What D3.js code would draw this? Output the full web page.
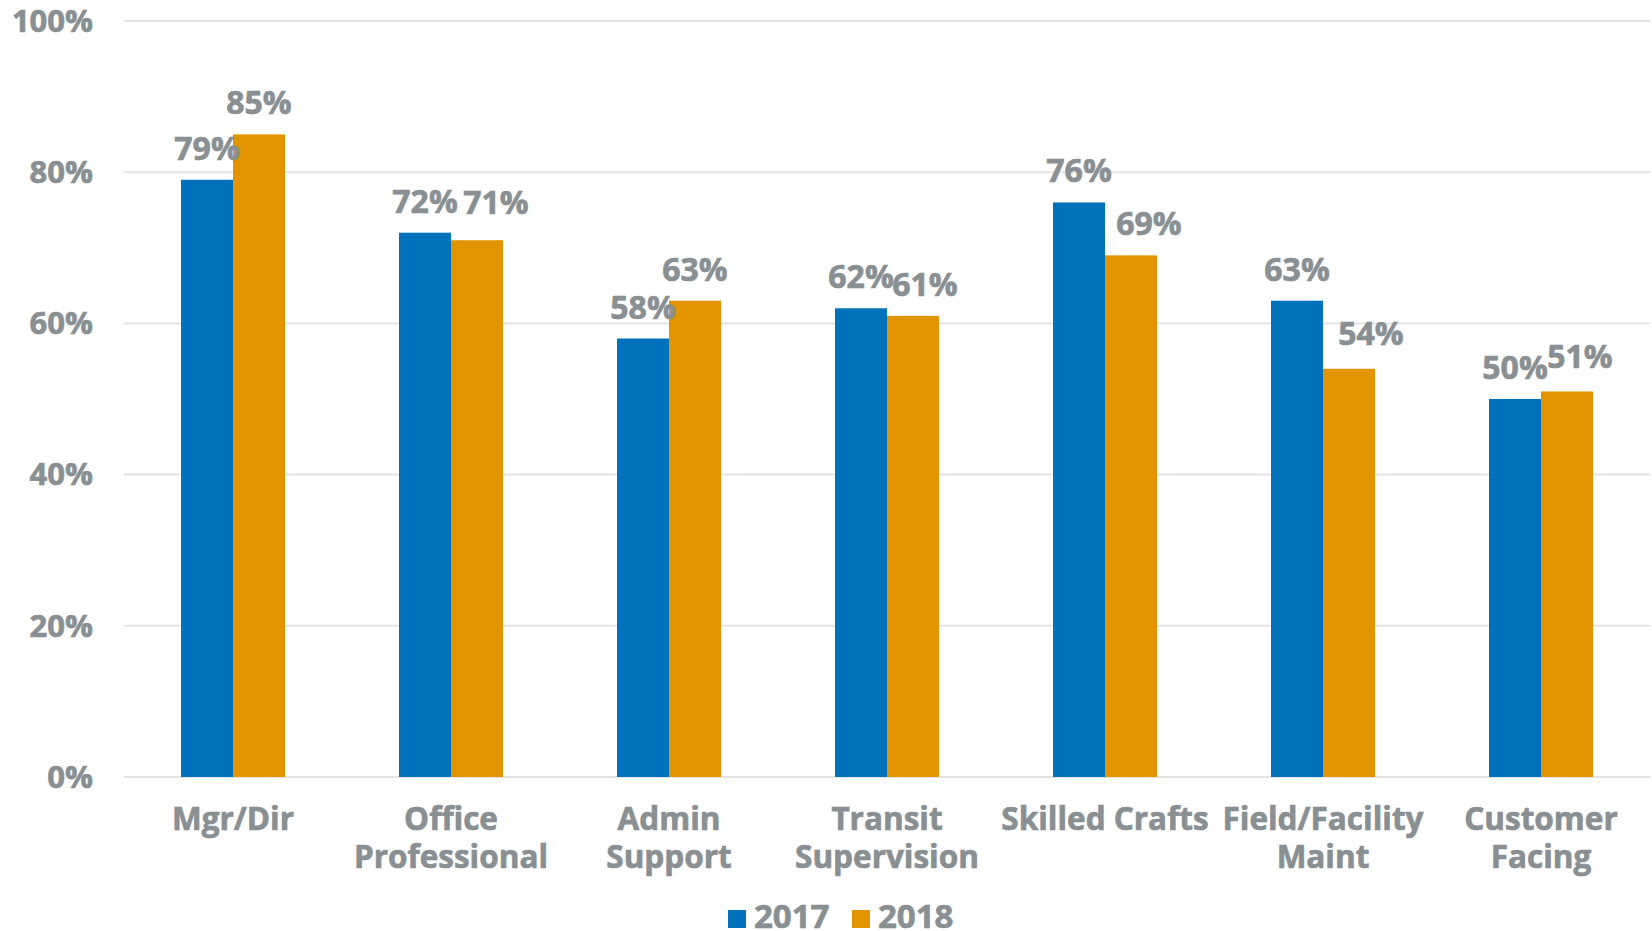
<!DOCTYPE html>
<html>
<head>
<meta charset="utf-8">
<script src="https://cdn.jsdelivr.net/npm/d3@7"></script>
<style>
  html, body { margin: 0; padding: 0; background: #ffffff; }
  svg text {
    font-family: "Open Sans", "DejaVu Sans", sans-serif;
    font-weight: 700;
    fill: #899093;
    stroke: #899093;
    stroke-width: 0.7px;
  }
</style>
</head>
<body>
<svg id="chart" width="1652" height="931"></svg>
<script>
// Job categories (line breaks marked with \n)
const categories = [
  "Mgr/Dir",
  "Office\nProfessional",
  "Admin\nSupport",
  "Transit\nSupervision",
  "Skilled Crafts",
  "Field/Facility\nMaint",
  "Customer\nFacing"
];
const seriesNames = ["2017", "2018"];
const values2017 = [0.79, 0.72, 0.58, 0.62, 0.76, 0.63, 0.50];
const values2018 = [0.85, 0.71, 0.63, 0.61, 0.69, 0.54, 0.51];
const yTicks = [0, 0.2, 0.4, 0.6, 0.8, 1.0];
const colors = ["#0072BB", "#E29500"];

// Hand-placed label nudges (px) so neighbouring value labels stay readable
const labelShift = {
  "2017": { dx: [0, 0, 0, 0, 0, 0, 0], dy: [0, 0, 0, 0, 0, 0, 0] },
  "2018": { dx: [0, 19, 0, 12, 18, 22, 13], dy: [0, 6, 0, 0, 0, 4, 3] }
};

const svg = d3.select("#chart");
const plot = { left: 124, right: 1650, top: 21, bottom: 777 };

const x = d3.scaleBand()
  .domain(categories)
  .range([plot.left, plot.right])
  .paddingInner(0.523)
  .paddingOuter(0.2615);

const xSub = d3.scaleBand()
  .domain(seriesNames)
  .range([0, x.bandwidth()]);

const y = d3.scaleLinear().domain([0, 1]).range([plot.bottom, plot.top]);
const pct = d3.format(".0%");

// Horizontal gridlines
svg.append("g")
  .selectAll("line")
  .data(yTicks)
  .join("line")
  .attr("x1", plot.left)
  .attr("x2", plot.right)
  .attr("y1", d => y(d))
  .attr("y2", d => y(d))
  .attr("stroke", "#e3e3e3")
  .attr("stroke-width", 2);

// Y tick labels
svg.append("g")
  .selectAll("text")
  .data(yTicks)
  .join("text")
  .attr("x", 93)
  .attr("y", d => y(d))
  .attr("dy", "0.35em")
  .attr("text-anchor", "end")
  .style("font-size", "31px")
  .text(d => pct(d));

const rows = categories.map((c, i) => ({
  cat: c,
  i,
  vals: [values2017[i], values2018[i]]
}));

// Bars
const groups = svg.append("g")
  .selectAll("g")
  .data(rows)
  .join("g")
  .attr("transform", d => `translate(${x(d.cat)},0)`);

const cells = d => d.vals.map((v, j) => ({ series: seriesNames[j], v, j, i: d.i }));

groups.selectAll("rect")
  .data(cells)
  .join("rect")
  .attr("x", d => xSub(d.series))
  .attr("width", xSub.bandwidth())
  .attr("y", d => y(d.v))
  .attr("height", d => y(0) - y(d.v))
  .attr("fill", d => colors[d.j]);

// Value labels
groups.selectAll("text")
  .data(cells)
  .join("text")
  .attr("x", d => xSub(d.series) + xSub.bandwidth() / 2 + labelShift[d.series].dx[d.i])
  .attr("y", d => y(d.v) - 20 - labelShift[d.series].dy[d.i])
  .attr("text-anchor", "middle")
  .style("font-size", "32px")
  .text(d => pct(d.v));

// Category labels
const catLabels = svg.append("g")
  .selectAll("text")
  .data(categories)
  .join("text")
  .attr("x", d => x(d) + x.bandwidth() / 2)
  .attr("y", 830)
  .attr("text-anchor", "middle")
  .style("font-size", "31.5px");

catLabels.selectAll("tspan")
  .data(d => d.split("\n").map(s => ({ s, x: x(d) + x.bandwidth() / 2 })))
  .join("tspan")
  .attr("x", d => d.x)
  .attr("dy", (d, i) => (i === 0 ? 0 : 38))
  .text(d => d.s);

// Legend
const legendItems = [
  { name: seriesNames[0], color: colors[0], x: 728 },
  { name: seriesNames[1], color: colors[1], x: 852 }
];
const legend = svg.append("g")
  .selectAll("g")
  .data(legendItems)
  .join("g")
  .attr("transform", d => `translate(${d.x},0)`);
legend.append("rect")
  .attr("x", 0)
  .attr("y", 910)
  .attr("width", 18)
  .attr("height", 18)
  .attr("fill", d => d.color);
legend.append("text")
  .attr("x", 26)
  .attr("y", 928)
  .style("font-size", "33px")
  .text(d => d.name);
</script>
</body>
</html>
